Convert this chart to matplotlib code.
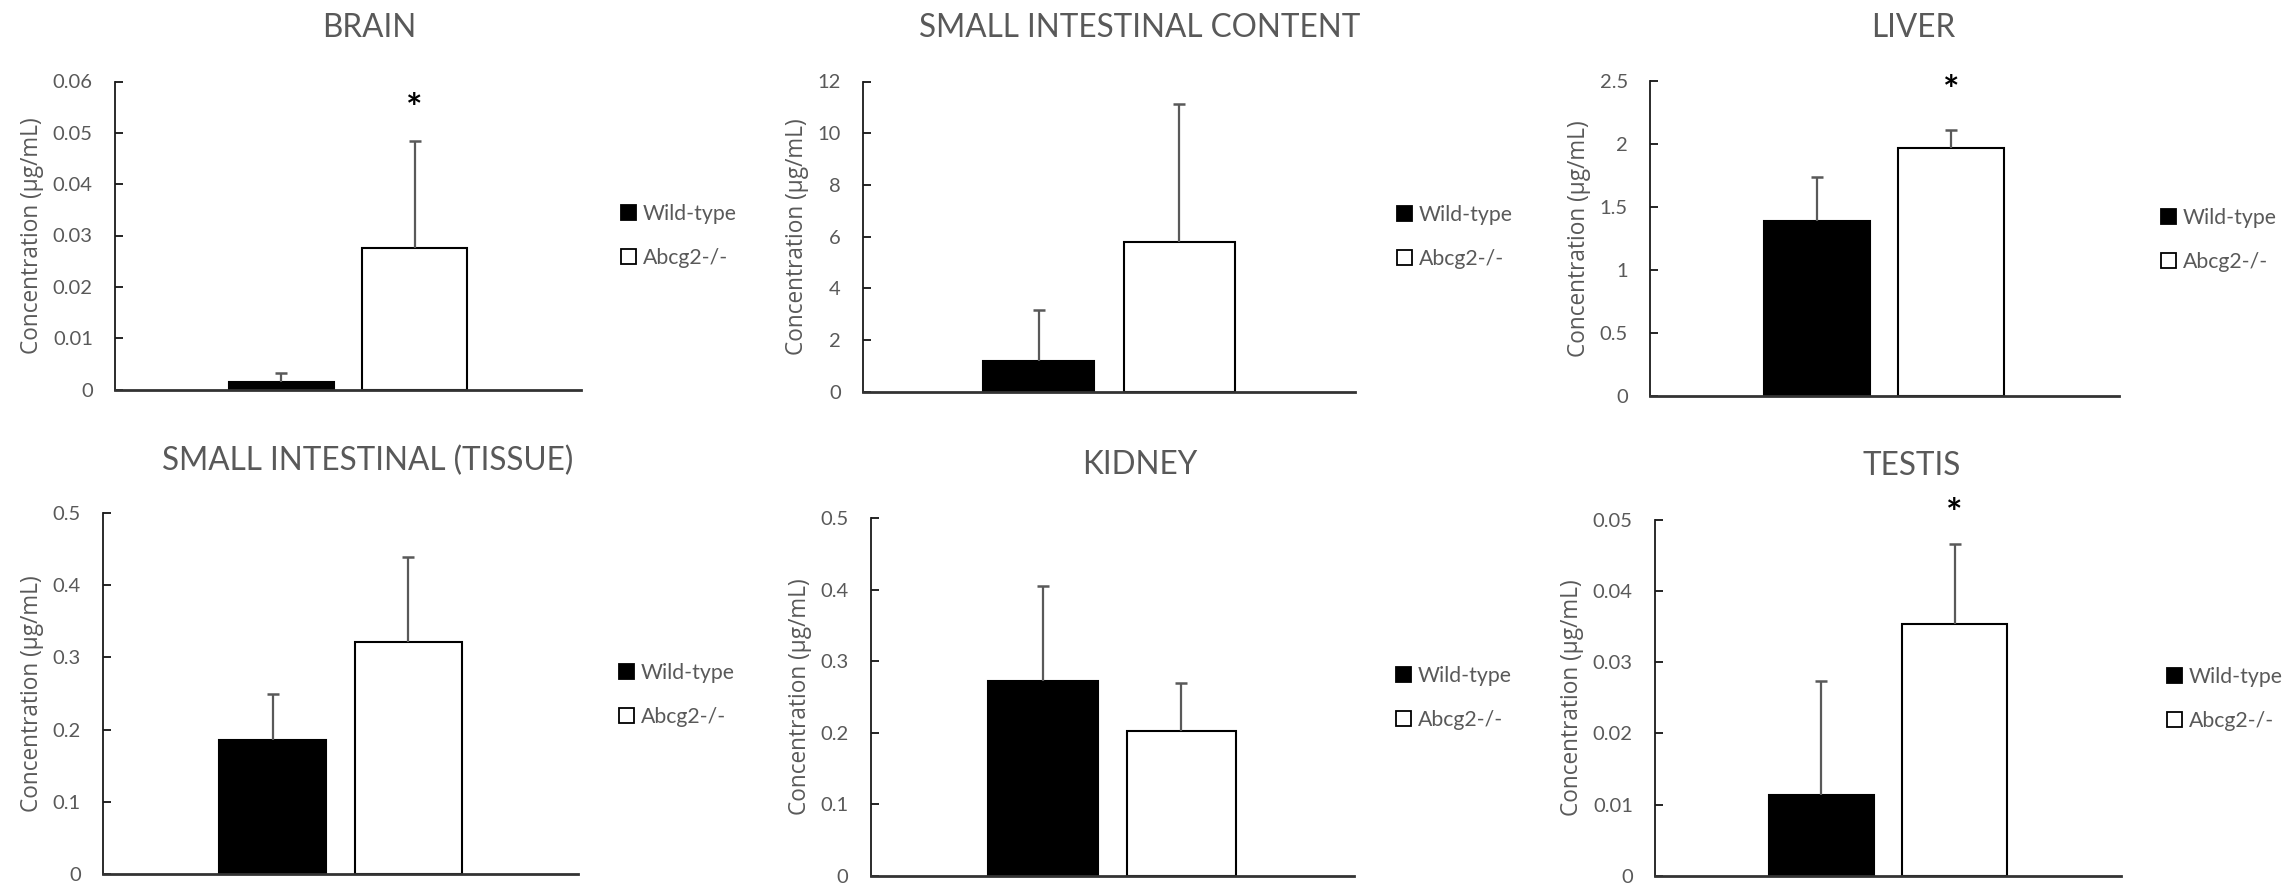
import matplotlib
matplotlib.use("Agg")
import matplotlib.pyplot as plt
from matplotlib.patches import Patch
from matplotlib.transforms import blended_transform_factory

# ---- data -------------------------------------------------------------
groups = ["Wild-type", "Abcg2-/-"]
tissues = ["BRAIN", "SMALL INTESTINAL CONTENT", "LIVER",
           "SMALL INTESTINAL (TISSUE)", "KIDNEY", "TESTIS"]
wild_mean = [0.0015, 1.20, 1.39, 0.185, 0.272, 0.0114]
wild_sd = [0.0018, 1.96, 0.35, 0.064, 0.133, 0.0159]
ko_mean = [0.0276, 5.78, 1.97, 0.322, 0.202, 0.0354]
ko_sd = [0.0208, 5.34, 0.143, 0.118, 0.067, 0.0112]
y_max = [0.06, 12, 2.5, 0.5, 0.5, 0.05]
y_step = [0.01, 2, 0.5, 0.1, 0.1, 0.01]
significant = [True, False, True, False, False, True]

# ---- layout (pixels on a 2282 x 883 canvas) ---------------------------
W, H = 2282, 883
axes_px = [  # left, right, top, bottom
    (115, 581, 81.5, 389.5),
    (863, 1355, 81.5, 391.7),
    (1650, 2118.5, 81.5, 395.7),
    (103, 578, 513.3, 873.7),
    (870.5, 1354, 518, 875.7),
    (1655, 2121, 519.7, 875.7),
]
title_px = [(369, 28), (1140, 28), (1913, 28),
            (368, 461), (1140, 465), (1912, 466)]
legend_px = [(621, 236), (1397, 237), (2161, 240),
             (619, 695), (1396, 698), (2167, 699)]
star_frac = [0.908, None, 0.969, None, None, 1.014]

GREY = "#595959"
plt.rcParams["font.family"] = ["Lato", "DejaVu Sans"]

fig = plt.figure(figsize=(W / 100, H / 100), dpi=100)
fig.patch.set_facecolor("white")

offset, width = 0.143, 0.226

for i, name in enumerate(tissues):
    l, r, t, b = axes_px[i]
    ax = fig.add_axes([l / W, 1 - b / H, (r - l) / W, (b - t) / H])
    xs = [-offset, offset]
    means = [wild_mean[i], ko_mean[i]]
    sds = [wild_sd[i], ko_sd[i]]
    colors = ["black", "white"]
    ax.bar(xs, means, width=width, color=colors, edgecolor="black",
           linewidth=1.5, zorder=2)
    for x, m, s in zip(xs, means, sds):
        eb = ax.errorbar([x], [m], yerr=[[0], [s]], fmt="none", ecolor=GREY,
                         elinewidth=1.6, capsize=4.3, capthick=1.8, zorder=3)
        eb[1][0].set_visible(False)

    ax.set_xlim(-0.5, 0.5)
    ax.set_ylim(0, y_max[i])
    n = int(round(y_max[i] / y_step[i]))
    ticks = [round(k * y_step[i], 6) for k in range(n + 1)]
    ax.set_yticks(ticks)
    ax.set_yticklabels([f"{v:g}" for v in ticks])
    ax.set_xticks([])
    ax.tick_params(axis="y", direction="in", length=5.5, width=1.2,
                   color="black", labelsize=14.5, labelcolor=GREY, pad=16)
    for s in ("top", "right"):
        ax.spines[s].set_visible(False)
    ax.spines["left"].set_color("#1a1a1a")
    ax.spines["left"].set_linewidth(1.3)
    ax.spines["bottom"].set_color("#333333")
    ax.spines["bottom"].set_linewidth(2.0)
    ax.spines["bottom"].set_zorder(4)
    ax.set_facecolor("none")

    ax.set_ylabel("Concentration (μg/mL)", fontsize=16.3, color=GREY,
                  family=["Open Sans", "DejaVu Sans"], labelpad=6)

    if significant[i]:
        tr = blended_transform_factory(ax.transData, ax.transAxes)
        ax.text(offset, star_frac[i], "*", transform=tr, ha="center",
                va="center", fontsize=28, fontweight="bold", color="black",
                clip_on=False)

    handles = [Patch(facecolor="black", edgecolor="black", linewidth=1.3),
               Patch(facecolor="white", edgecolor="black", linewidth=1.3)]
    lx, ly = legend_px[i]
    leg = ax.legend(handles, groups, loc="center left",
                    bbox_to_anchor=(lx / W, 1 - ly / H),
                    bbox_transform=fig.transFigure, frameon=False,
                    borderpad=0, borderaxespad=0, handlelength=0.72,
                    handleheight=0.72, handletextpad=0.3, labelspacing=1.15,
                    fontsize=15.3)
    for txt in leg.get_texts():
        txt.set_color(GREY)

    tx, ty = title_px[i]
    fig.text(tx / W, 1 - ty / H, name, ha="center", va="center",
             fontsize=22.7, color=GREY)

fig.savefig("out.png", dpi=100, facecolor="white")
